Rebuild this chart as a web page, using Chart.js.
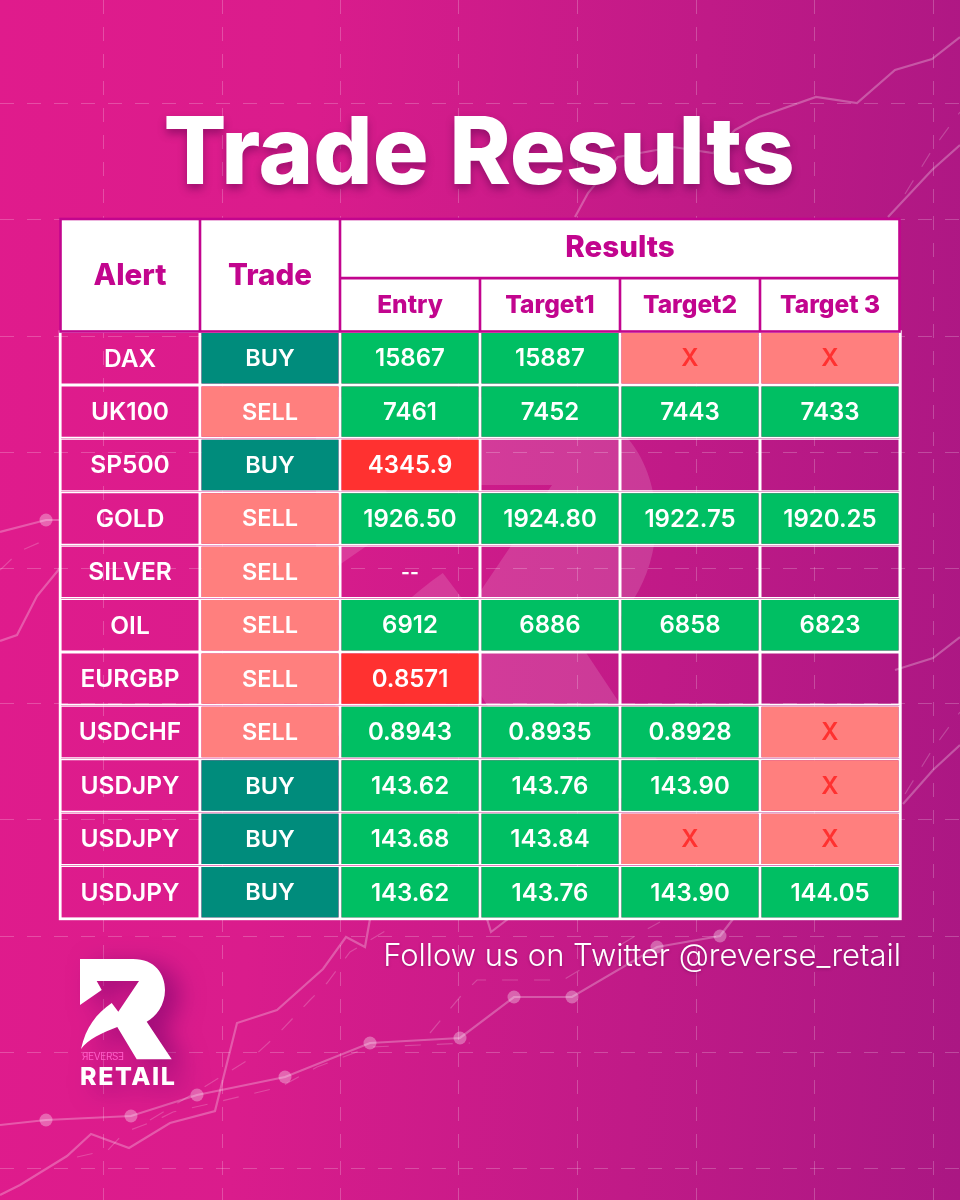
<!DOCTYPE html>
<html lang="en">
<head>
  <meta charset="UTF-8" />
  <title>Trade Results</title>
  <script src="https://cdn.jsdelivr.net/npm/chart.js"></script>
  <style>
    * {
      box-sizing: border-box;
    }

    html, body {
      margin: 0;
      width: 960px;
      height: 1200px;
      overflow: hidden;
    }

    body {
      position: relative;
      background: linear-gradient(94deg, #e01b8c 0%, #da1c8c 30%, #c01a87 68%, #aa1783 100%);
      font-family: Inter, 'Noto Sans', sans-serif;
      color: #fff;
    }

    canvas, svg {
      position: absolute;
      left: 0;
      top: 0;
    }

    h1 {
      position: absolute;
      left: 0;
      width: 958px;
      top: 94px;
      margin: 0;
      text-align: center;
      font-size: 93.2px;
      line-height: 112px;
      font-weight: 800;
      letter-spacing: 0;
      text-shadow: 0 5px 9px rgba(80, 0, 70, 0.45);
    }

    #follow {
      position: absolute;
      right: 59px;
      top: 936px;
      font-size: 31px;
      line-height: 38px;
      font-weight: 300;
      white-space: nowrap;
      text-shadow: 0 1px 3px rgba(80, 0, 70, 0.4);
    }

    #logo {
      filter: drop-shadow(14px 6px 12px rgba(110, 0, 105, 0.55));
    }
  </style>
</head>
<body>

  <canvas id="backdrop" width="960" height="1200"></canvas>

  <svg width="960" height="1200">
    <defs>
      <path id="mark" d="M0 0 H53 C75 0 85 15 85 31 C85 46 76 58 66.7 62.7 L91.7 100.3 H56.7 L37.3 68 C22 74 8 80 1 90 C6 68 16 55 31.7 44 L38.3 52.7 L59 22 H16.7 L21.7 31 L0 46 Z"/>
    </defs>
    <use href="#mark" transform="translate(316 397) scale(4)" fill="#fff" opacity="0.14"/>
  </svg>

  <canvas id="table" width="960" height="1200"></canvas>

  <h1>Trade Results</h1>
  <div id="follow">Follow us on Twitter @reverse_retail</div>

  <svg id="logo" width="960" height="1200">
    <use href="#mark" transform="translate(80 959)" fill="#fff"/>
    <text x="82" y="1060" font-size="10" font-family="Inter" fill="#ff5cc8" textLength="42">ЯEVERSƎ</text>
    <text x="80" y="1085" font-size="25" font-weight="800" font-family="Inter" fill="#fff" textLength="95">RETAIL</text>
  </svg>

  <script>
    const columns = ['Alert', 'Trade', 'Entry', 'Target1', 'Target2', 'Target 3'];
    const resultsTitle = 'Results';

    const alerts = ['DAX', 'UK100', 'SP500', 'GOLD', 'SILVER', 'OIL', 'EURGBP', 'USDCHF', 'USDJPY', 'USDJPY', 'USDJPY'];
    const trades = ['BUY', 'SELL', 'BUY', 'SELL', 'SELL', 'SELL', 'SELL', 'SELL', 'BUY', 'BUY', 'BUY'];
    const entry = ['15867', '7461', '4345.9', '1926.50', '--', '6912', '0.8571', '0.8943', '143.62', '143.68', '143.62'];
    const target1 = ['15887', '7452', '', '1924.80', '', '6886', '', '0.8935', '143.76', '143.84', '143.76'];
    const target2 = ['X', '7443', '', '1922.75', '', '6858', '', '0.8928', '143.90', 'X', '143.90'];
    const target3 = ['X', '7433', '', '1920.25', '', '6823', '', 'X', 'X', 'X', '144.05'];
    const stopped = ['4345.9', '0.8571'];

    // backdrop artwork in page pixels
    const gridX = [103, 222, 340, 458, 577, 696, 814, 933];
    const gridY = [103, 220, 336, 452, 568, 703, 819, 936, 1052, 1168];
    const dottedLineA = [[0, 1125], [46, 1120], [131, 1116], [197, 1095], [285, 1077], [370, 1043], [460, 1038], [514, 997], [572, 997], [657, 947], [720, 936], [733, 919]];
    const dottedLineB = [[0, 532], [46, 520], [60, 520]];
    const plainLines = [
      [[0, 1195], [20, 1185], [67, 1156], [91, 1134], [129, 1148], [170, 1123], [215, 1111], [237, 1023], [277, 1010], [323, 969], [346, 937], [365, 947], [370, 919]],
      [[487, 919], [491, 932], [508, 919]],
      [[0, 641], [17, 635], [37, 596], [60, 568]],
      [[575, 217], [588, 193], [618, 157], [673, 147], [713, 153], [735, 130], [759, 117], [816, 97], [857, 103], [895, 70], [932, 59], [960, 37]],
      [[888, 217], [932, 170], [960, 145]],
      [[895, 670], [933, 658], [960, 637]],
      [[903, 804], [933, 770], [960, 745]]
    ];
    const dashedLines = [
      [[77, 1157], [108, 1150], [125, 1132], [157, 1120], [173, 1112], [213, 1103], [247, 1095], [280, 1087], [317, 1067], [370, 1047], [420, 1045], [470, 1043]],
      [[150, 1120], [227, 1073], [253, 1057], [277, 1035], [310, 1000], [327, 983], [350, 952], [387, 930]],
      [[430, 1033], [460, 997], [477, 980], [487, 980], [563, 980], [583, 968], [640, 933], [660, 922]],
      [[0, 570], [20, 551], [50, 538]],
      [[905, 194], [932, 150], [960, 112]],
      [[905, 794], [932, 750], [960, 712]]
    ];

    const toPoints = pairs => pairs.map(([x, y]) => ({ x, y }));
    const lineColor = 'rgba(255, 255, 255, 0.27)';

    const dottedDataset = pairs => ({
      data: toPoints(pairs),
      borderColor: lineColor,
      borderWidth: 2.2,
      pointBackgroundColor: 'rgba(255, 255, 255, 0.32)',
      pointBorderWidth: 0,
      pointRadius: ctx => (ctx.dataIndex === 0 || ctx.dataIndex === pairs.length - 1 ? 0 : 6.5)
    });

    const pageAxis = (max, reverse, gridValues) => ({
      type: 'linear',
      min: 0,
      max: max,
      reverse: reverse,
      afterBuildTicks: axis => {
        axis.ticks = gridValues.map(value => ({ value }));
      },
      ticks: { display: false },
      border: { display: false, dash: [14, 13] },
      grid: { color: 'rgba(255, 255, 255, 0.22)', lineWidth: 1, drawTicks: false }
    });

    new Chart(document.getElementById('backdrop'), {
      type: 'line',
      data: {
        datasets: [
          dottedDataset(dottedLineA),
          dottedDataset(dottedLineB),
          ...plainLines.map(pairs => ({
            data: toPoints(pairs),
            borderColor: lineColor,
            borderWidth: 2.2,
            pointRadius: 0
          })),
          ...dashedLines.map(pairs => ({
            data: toPoints(pairs),
            borderColor: 'rgba(255, 255, 255, 0.2)',
            borderWidth: 1.2,
            borderDash: [16, 16],
            pointRadius: 0
          }))
        ]
      },
      options: {
        responsive: false,
        animation: false,
        layout: { padding: 0 },
        plugins: { legend: { display: false }, tooltip: { enabled: false } },
        scales: {
          x: pageAxis(960, false, gridX),
          y: pageAxis(1200, true, gridY)
        }
      }
    });

    // the table: columns on a category axis, rows as units on a linear axis
    const headTop = -2.125;
    const headSplit = -1;
    const bodyColumns = [alerts, trades, entry, target1, target2, target3];

    const headInk = '#c2058e';
    const clear = 'rgba(0, 0, 0, 0)';

    function cellColor(col, row) {
      const value = bodyColumns[col][row];
      if (col === 0 || value === '' || value === '--') return clear;
      if (col === 1) return value === 'BUY' ? '#008c7c' : '#ff7f7e';
      if (value === 'X') return '#ff7f7e';
      return stopped.includes(value) ? '#ff3130' : '#00bf63';
    }

    const rowDatasets = alerts.map((name, row) => ({
      label: name,
      data: columns.map(() => [row, row + 1]),
      backgroundColor: columns.map((c, col) => cellColor(col, row)),
      borderColor: '#fff',
      borderWidth: 1.5,
      borderSkipped: false,
      inflateAmount: 0,
      grouped: false,
      barPercentage: 1,
      categoryPercentage: 1
    }));

    const headDataset = {
      label: 'Header',
      data: columns.map(() => [headTop, 0]),
      backgroundColor: '#fff',
      borderWidth: 0,
      inflateAmount: 0,
      grouped: false,
      barPercentage: 1,
      categoryPercentage: 1
    };

    function cellFont(col, value) {
      if (value === '--') return '700 19px Inter, sans-serif';
      if (col === 0) return '600 24.5px Inter, sans-serif';
      return col === 1 ? '600 23.5px Inter, sans-serif' : '600 24px Inter, sans-serif';
    }

    const tableText = {
      id: 'tableText',
      afterDatasetsDraw(chart) {
        const { ctx, scales: { x, y } } = chart;
        const edge = i => x.getPixelForValue(i - 0.5);

        // outer white frame of the body
        ctx.save();
        ctx.strokeStyle = '#fff';
        ctx.lineWidth = 2.4;
        ctx.strokeRect(edge(0), y.getPixelForValue(0), edge(6) - edge(0) + 0.5, y.getPixelForValue(alerts.length) - y.getPixelForValue(0));

        // header rules
        ctx.strokeStyle = headInk;
        ctx.lineWidth = 2.6;
        ctx.strokeRect(edge(0) + 0.5, y.getPixelForValue(headTop) + 1, edge(6) - edge(0) - 1, y.getPixelForValue(0) - y.getPixelForValue(headTop) - 1);
        ctx.beginPath();
        [1, 2].forEach(i => {
          ctx.moveTo(edge(i), y.getPixelForValue(headTop));
          ctx.lineTo(edge(i), y.getPixelForValue(0));
        });
        [3, 4, 5].forEach(i => {
          ctx.moveTo(edge(i), y.getPixelForValue(headSplit));
          ctx.lineTo(edge(i), y.getPixelForValue(0));
        });
        ctx.moveTo(edge(2), y.getPixelForValue(headSplit));
        ctx.lineTo(edge(6), y.getPixelForValue(headSplit));
        ctx.stroke();

        ctx.textAlign = 'center';
        ctx.textBaseline = 'middle';

        // header labels
        ctx.fillStyle = headInk;
        ctx.font = '800 29.5px Inter, sans-serif';
        ctx.fillText(columns[0], x.getPixelForValue(0), y.getPixelForValue(headTop / 2) + 1);
        ctx.fillText(columns[1], x.getPixelForValue(1), y.getPixelForValue(headTop / 2) + 1);
        ctx.fillText(resultsTitle, (edge(2) + edge(6)) / 2, y.getPixelForValue((headTop + headSplit) / 2));
        ctx.font = '800 24.5px Inter, sans-serif';
        columns.slice(2).forEach((name, i) => {
          ctx.fillText(name, x.getPixelForValue(i + 2), y.getPixelForValue(headSplit / 2) + 1);
        });

        // body values
        bodyColumns.forEach((values, col) => {
          values.forEach((value, row) => {
            const cy = y.getPixelForValue(row + 0.5) + 1;
            ctx.fillStyle = value === 'X' ? '#ff3130' : '#fff';
            ctx.font = cellFont(col, value);
            ctx.fillText(value, x.getPixelForValue(col), cy);
          });
        });
        ctx.restore();
      }
    };

    new Chart(document.getElementById('table'), {
      type: 'bar',
      data: {
        labels: columns,
        datasets: [headDataset, ...rowDatasets]
      },
      options: {
        responsive: false,
        animation: false,
        layout: { padding: { left: 60, right: 60, top: 218, bottom: 281 } },
        plugins: { legend: { display: false }, tooltip: { enabled: false } },
        scales: {
          x: { display: false },
          y: { display: false, min: headTop, max: alerts.length, reverse: true }
        }
      },
      plugins: [tableText]
    });
  </script>

</body>
</html>
